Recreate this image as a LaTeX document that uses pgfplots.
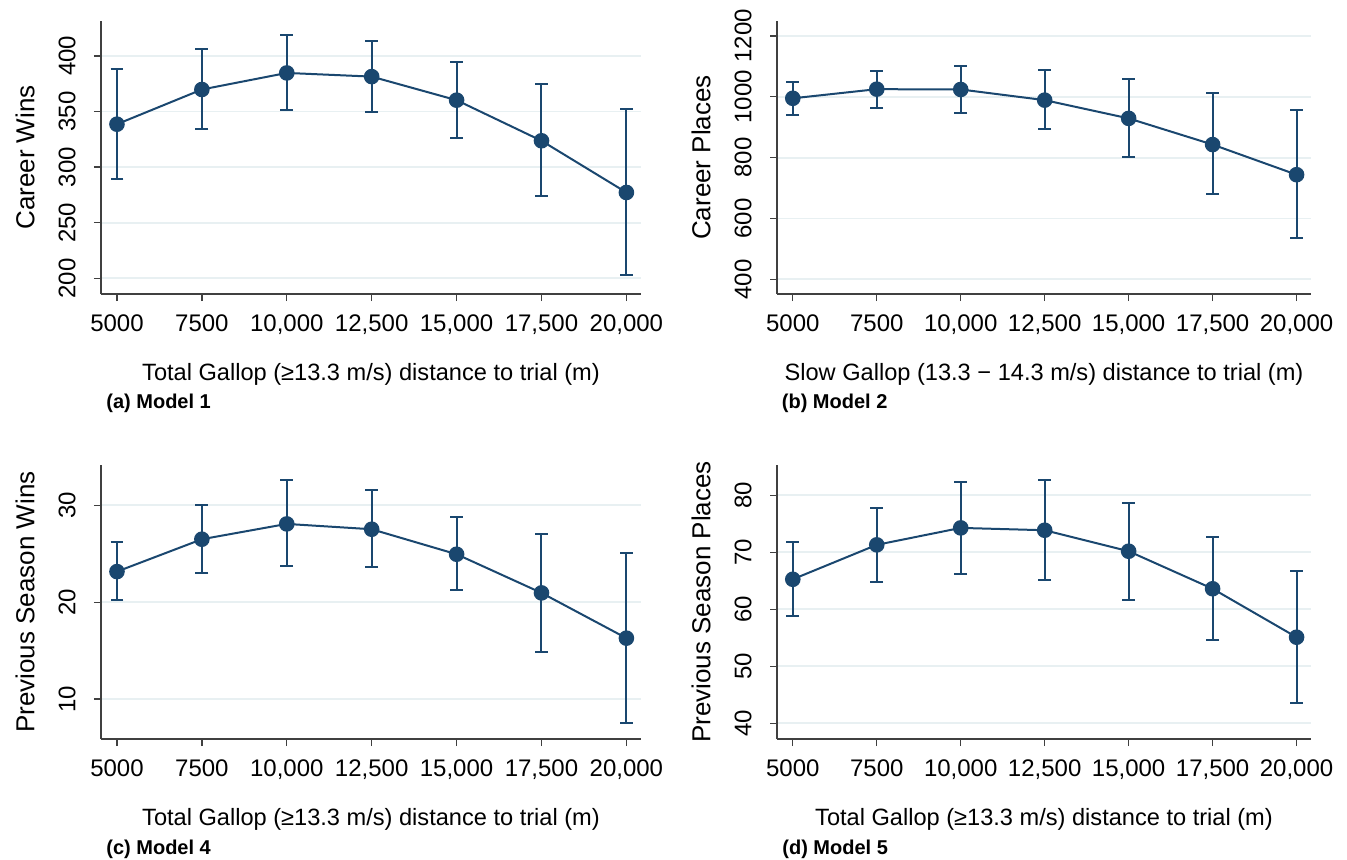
\documentclass[border=0pt]{standalone}
\usepackage{fontspec}
\setmainfont{Liberation Sans}
\usepackage{pgfplots}
\usepackage{pgfplotstable}
\pgfplotsset{compat=1.18}
\definecolor{stnavy}{RGB}{26,71,111}
\definecolor{stgrid}{RGB}{232,240,242}

% x, estimate, upper CI, lower CI
\pgfplotstableread{
x y hi lo
5000 338.6 388.6 289.5
7500 369.8 406.0 334.4
10000 384.7 418.6 351.8
12500 381.4 413.5 349.7
15000 360.2 394.9 326.0
17500 323.7 375.1 273.7
20000 277.2 352.7 202.7
}\modela
\pgfplotstableread{
x y hi lo
5000 995 1050 941
7500 1025 1086 964
10000 1024 1100 948
12500 989 1089 893
15000 929 1058 802
17500 843 1014 679
20000 744 955 537
}\modelb
\pgfplotstableread{
x y hi lo
5000 23.16 26.19 20.20
7500 26.50 30.07 22.99
10000 28.08 32.58 23.71
12500 27.53 31.55 23.61
15000 24.95 28.80 21.24
17500 20.96 27.08 14.90
20000 16.29 25.12 7.49
}\modelc
\pgfplotstableread{
x y hi lo
5000 65.26 71.8 58.9
7500 71.30 77.8 64.85
10000 74.27 82.34 66.2
12500 73.86 82.63 65.15
15000 70.18 78.7 61.7
17500 63.60 72.7 54.6
20000 55.10 66.7 43.5
}\modeld

\pgfplotsset{
  stata/.style={
    scale only axis,
    anchor=south west,
    axis lines*=left,
    axis line style={-, draw=black!75, line width=0.7pt},
    tick align=outside,
    major tick length=3.5pt,
    tick style={black!75, line width=0.7pt},
    xmin=4530, xmax=20430,
    scaled x ticks=false,
    xtick={5000,7500,10000,12500,15000,17500,20000},
    xticklabels={5000,7500,{10,000},{12,500},{15,000},{17,500},{20,000}},
    ymajorgrids, grid style={stgrid, line width=0.9pt},
    tick label style={font=\fontsize{12}{14}\selectfont},
    /pgf/number format/assume math mode=true,
    /pgf/number format/1000 sep={},
    yticklabel style={xshift=-13.5pt, rotate=90, anchor=center},
    xticklabel style={anchor=base, yshift=-15.25pt},
    xlabel style={font=\fontsize{11.8}{14}\selectfont, at={(axis description cs:0.5,0)}, anchor=center, yshift=-40pt},
    every axis y label/.style={font=\fontsize{13}{15}\selectfont, at={(axis description cs:0,0.5)}, xshift=-38pt, rotate=90, anchor=center},
  },
  cip/.style={stnavy, line width=1pt, mark=*, mark size=3.4pt,
    mark options={solid, fill=stnavy},
    error bars/.cd, y dir=both, y explicit,
    error bar style={line width=1pt, stnavy},
    error mark options={rotate=90, mark size=3.2pt, line width=1pt, stnavy}},
}

\begin{document}
\begin{tikzpicture}
\path[use as bounding box] (0,0) rectangle (673.5pt,429.5pt);

\begin{axis}[stata, at={(50.5pt,282.5pt)}, width=270pt, height=136.5pt,
  ymin=185.9, ymax=431.4, ytick={200,250,300,350,400},
  xlabel={Total Gallop (≥13.3 m/s) distance to trial (m)}, ylabel={Career Wins}]
  \addplot[cip] table[x=x, y=y, y error plus expr=\thisrow{hi}-\thisrow{y}, y error minus expr=\thisrow{y}-\thisrow{lo}] {\modela};
\end{axis}

\begin{axis}[stata, at={(388.5pt,282.5pt)}, width=267pt, height=136.5pt,
  ymin=352, ymax=1249, ytick={400,600,800,1000,1200},
  xlabel={Slow Gallop (13.3 − 14.3 m/s) distance to trial (m)}, ylabel={Career Places}]
  \addplot[cip] table[x=x, y=y, y error plus expr=\thisrow{hi}-\thisrow{y}, y error minus expr=\thisrow{y}-\thisrow{lo}] {\modelb};
\end{axis}

\begin{axis}[stata, at={(50.5pt,60pt)}, width=270pt, height=137pt,
  ymin=5.88, ymax=34.16, ytick={10,20,30},
  xlabel={Total Gallop (≥13.3 m/s) distance to trial (m)}, ylabel={Previous Season Wins}]
  \addplot[cip] table[x=x, y=y, y error plus expr=\thisrow{hi}-\thisrow{y}, y error minus expr=\thisrow{y}-\thisrow{lo}] {\modelc};
\end{axis}

\begin{axis}[stata, at={(388.5pt,60pt)}, width=267pt, height=137pt,
  ymin=37.25, ymax=85.3, ytick={40,50,60,70,80},
  xlabel={Total Gallop (≥13.3 m/s) distance to trial (m)}, ylabel={Previous Season Places}]
  \addplot[cip] table[x=x, y=y, y error plus expr=\thisrow{hi}-\thisrow{y}, y error minus expr=\thisrow{y}-\thisrow{lo}] {\modeld};
\end{axis}

\node[anchor=west, font=\bfseries\fontsize{10}{12}\selectfont, inner sep=0pt] at (53pt,228pt) {(a) Model 1};
\node[anchor=west, font=\bfseries\fontsize{10}{12}\selectfont, inner sep=0pt] at (390.75pt,228pt) {(b) Model 2};
\node[anchor=west, font=\bfseries\fontsize{10}{12}\selectfont, inner sep=0pt] at (53pt,5pt) {(c) Model 4};
\node[anchor=west, font=\bfseries\fontsize{10}{12}\selectfont, inner sep=0pt] at (391pt,5pt) {(d) Model 5};
\end{tikzpicture}
\end{document}
